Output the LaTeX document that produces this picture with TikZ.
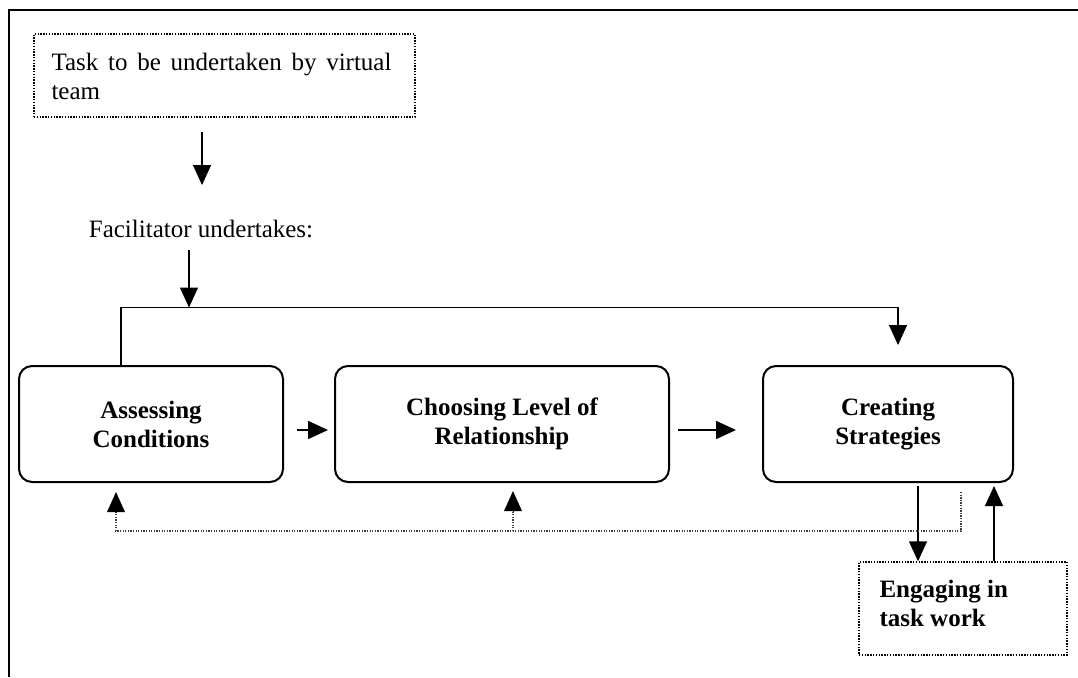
\documentclass[tikz,border=0pt]{standalone}
\usepackage{fontspec}
\setmainfont{Liberation Serif}
\usetikzlibrary{arrows.meta}
\begin{document}
\begin{tikzpicture}[x=1pt,y=-1pt,
  txt/.style={font=\fontsize{25}{29}\selectfont},
  btxt/.style={font=\fontsize{25}{29}\selectfont\bfseries},
  dotbox/.style={draw, line width=1.4pt, dash pattern=on 1.4pt off 1.4pt, inner sep=0pt},
  rbox/.style={draw, line width=2pt, rounded corners=13pt, inner sep=0pt, align=center, btxt, minimum height=116pt},
  arr/.style={line width=1.5pt, -{Triangle[length=20pt,width=18pt]}},
  line/.style={line width=1.5pt},
  dotline/.style={line width=1.3pt, black!75, dash pattern=on 1.3pt off 1.3pt},
  frame/.style={line width=2.2pt}
]
\useasboundingbox (0,0) rectangle (1078,677);
\coordinate (fl) at (9,677);
\coordinate (fc) at (9,10);
\coordinate (fr) at (1078,10);
\draw[frame] (fl) -- (fc) -- (fr);

\node[dotbox, minimum width=381pt, minimum height=83pt] (task) at (224.5,75.5) {};
\node[txt, align=left, anchor=west, inner sep=0pt] (tasktxt) at ([xshift=18pt,yshift=-1pt]task.west)
  {\makebox[340pt][s]{Task to be undertaken by virtual}\\team};

\node[txt, anchor=base, inner sep=0pt] (fac) at (201,237) {Facilitator undertakes:};

\node[rbox, minimum width=264pt] (assess) at (151,424) {Assessing\\Conditions};
\node[rbox, minimum width=334pt] (choose) at (502,424) {Choosing Level of\\Relationship};
\node[rbox, minimum width=250pt] (create) at (888,424) {Creating\\Strategies};

\node[dotbox, minimum width=208pt, minimum height=93pt] (engage) at (963,608.5) {};
\node[btxt, align=left, anchor=west, inner sep=0pt] (engtxt) at ([xshift=21pt,yshift=5pt]engage.west)
  {Engaging in\\task work};

% arrows
\coordinate (a1s) at (202,132);
\coordinate (a1e) at (202,185);
\draw[arr] (a1s) -- (a1e);

\coordinate (a2s) at (189,250);
\coordinate (bar) at (189,307.5);
\draw[arr] (a2s) -- (bar);

\coordinate (barL) at (121,307.5);
\coordinate (barR) at (898,307.5);
\coordinate (barE) at (898,345);
\draw[line] (assess.north -| barL) -- (barL) -- (barR) -- ++(0,2);
\draw[arr] (barR) -- (barE);

\coordinate (h1s) at (297,430);
\coordinate (h1e) at (328,430);
\draw[arr] (h1s) -- (h1e);
\coordinate (h2s) at (678,430);
\coordinate (h2e) at (736,430);
\draw[arr] (h2s) -- (h2e);

\coordinate (dn) at (918,486);
\draw[arr] (dn) -- (engage.north -| dn);
\coordinate (up) at (994,486);
\draw[arr] (engage.north -| up) -- (up);

% dotted feedback
\coordinate (f0) at (961,492);
\coordinate (f1) at (961,531);
\coordinate (f2) at (116,531);
\coordinate (f3) at (116,492);
\coordinate (f4) at (513,531);
\coordinate (f5) at (513,491);
\draw[dotline] (f0) -- (f1) -- (f2) -- (116,512);
\draw[dotline] (f4) -- (513,512);
\draw[arr, line width=0pt] (116,511) -- (f3);
\draw[arr, line width=0pt] (513,511) -- (f5);
\end{tikzpicture}
\end{document}
